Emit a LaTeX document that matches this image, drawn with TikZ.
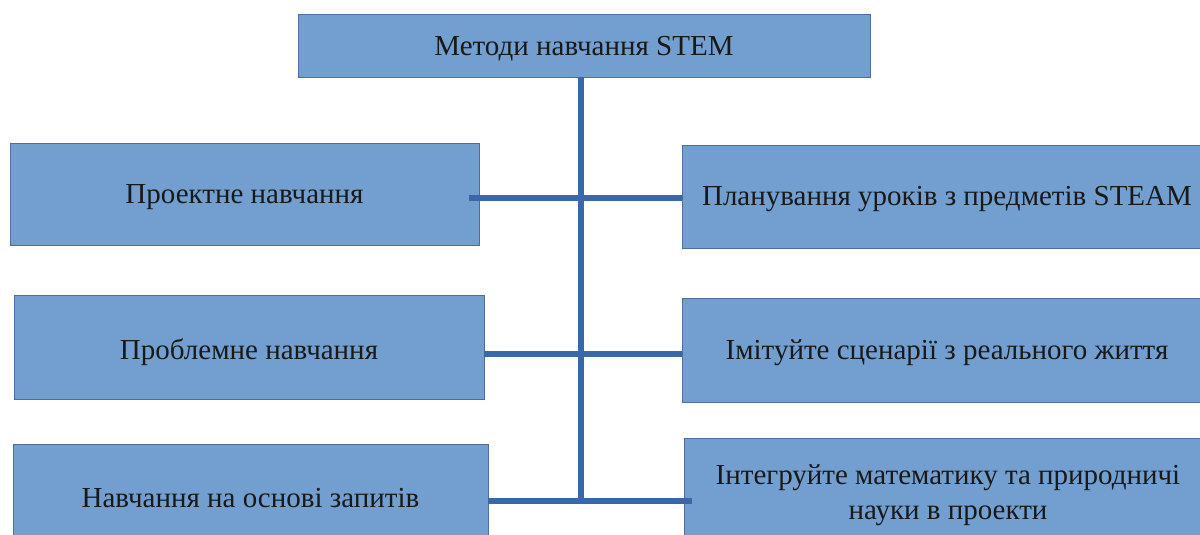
\documentclass[tikz,border=0pt]{standalone}
\usepackage{fontspec}
\setmainfont{Liberation Serif}
\usetikzlibrary{calc}
\definecolor{boxfill}{HTML}{729FCF}
\definecolor{boxline}{HTML}{4A6E9E}
\definecolor{conn}{HTML}{3A67A8}
\tikzset{
  box/.style={draw=boxline, line width=0.9pt, fill=boxfill, inner sep=0pt, align=center,
    font=\fontsize{29}{35}\selectfont, text=black!90},
  lbl/.style={inner sep=0pt, align=center, font=\fontsize{29}{35}\selectfont, text=black!90},
  link/.style={draw=conn, line width=6pt}
}
\begin{document}
\begin{tikzpicture}[x=1pt,y=-1pt]
\useasboundingbox (0,0) rectangle (1200,535);
\clip (0,0) rectangle (1200,535);
\fill[white] (0,0) rectangle (1200,535);
% junctions
\coordinate (j1) at (581,198);
\coordinate (j2) at (581,354);
\coordinate (j3) at (581,501);
\node[box, minimum width=572pt, minimum height=63pt] (top) at (584,45.5) {};
\node[box, minimum width=469pt, minimum height=102pt] (l1) at (244.5,194) {};
\node[box, minimum width=470pt, minimum height=104pt] (l2) at (249,347) {};
\node[box, minimum width=475pt, minimum height=104pt] (l3) at (250.5,496) {};
\node[box, minimum width=530pt, minimum height=103pt] (r1) at (947,196.5) {};
\node[box, minimum width=530pt, minimum height=104pt] (r2) at (947,350) {};
\node[box, minimum width=528pt, minimum height=108pt] (r3) at (948,492) {};
\node[lbl] (ttop) at ($(top.center)+(0,3)$) {Методи навчання STEM};
\node[lbl] (tl1) at ($(l1.center)+(0,3)$) {Проектне навчання};
\node[lbl] (tl2) at ($(l2.center)+(0,5)$) {Проблемне навчання};
\node[lbl] (tl3) at ($(l3.center)+(0,2)$) {Навчання на основі запитів};
\node[lbl] (tr1) at ($(r1.center)+(0,3)$) {Планування уроків з предметів STEAM};
\node[lbl] (tr2) at ($(r2.center)+(0,3)$) {Імітуйте сценарії з реального життя};
\node[lbl] (tr3) at ($(r3.center)+(0,3)$) {Інтегруйте математику та природничі\\науки в проекти};
\draw[link] (top.south -| j1) -- (j3);
\draw[link, shorten <=-10pt] (l1.east |- j1) -- (r1.west |- j1);
\draw[link] (l2.east |- j2) -- (r2.west |- j2);
\draw[link, shorten >=-8pt] (l3.east |- j3) -- (r3.west |- j3);
\end{tikzpicture}
\end{document}
